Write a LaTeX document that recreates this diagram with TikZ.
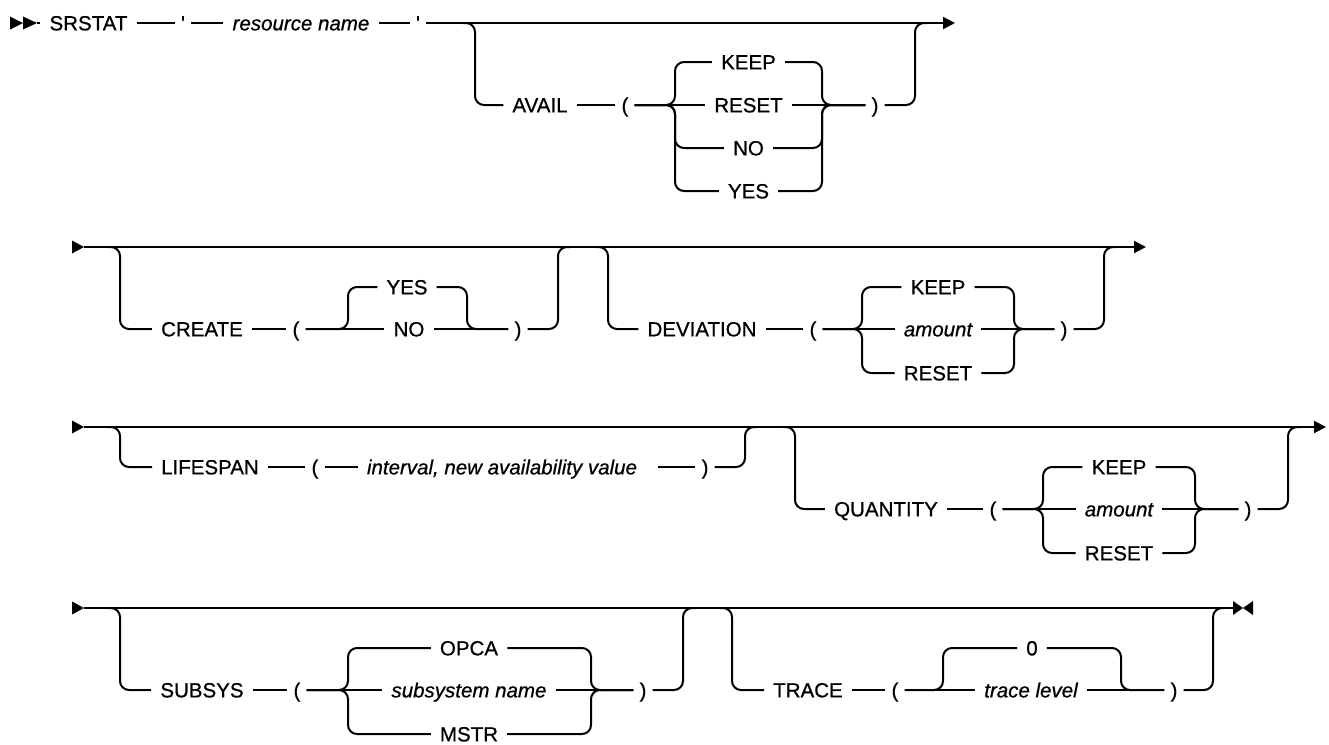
\documentclass[tikz,border=0pt]{standalone}
\usepackage{fontspec}
\newfontfamily\rrfam{Liberation Sans}[FakeBold=0.7]
\usetikzlibrary{arrows.meta}
\tikzset{
  rail/.style={line width=2pt, rounded corners=9pt},
  railend/.style={line width=2pt, -{Triangle[length=12pt,width=12pt]}},
  lbl/.style={inner xsep=9pt, inner ysep=0pt, text height=14.7pt, text depth=0pt,
    font=\rrfam\fontsize{20.5}{24}\selectfont},
  var/.style={lbl, font=\rrfam\fontsize{20.5}{24}\selectfont\itshape},
  par/.style={lbl, inner xsep=6pt},
  marker/.style={fill=black, draw=none},
}
\begin{document}
\begin{tikzpicture}[x=1pt, y=-1pt]
\useasboundingbox (0,0) rectangle (1329,744);

% ---------------- Row 1 ----------------
\coordinate (m1c) at (37,23);
\fill[marker] (10,16.5) -- (23,23) -- (10,29.5) -- cycle;
\fill[marker] (23,16.5) -- (37,23) -- (23,29.5) -- cycle;
\node[lbl] (srstat) at (88.5,23) {SRSTAT};
\node[par] (q1) at (183,23) {'};
\node[var] (rn) at (301,23) {resource name};
\node[par] (q2) at (418,23) {'};
\coordinate (end1) at (955,23);
\draw[rail] (m1c) -- (srstat.west);
\draw[rail] (srstat.east) -- (q1.west);
\draw[rail] (q1.east) -- (rn.west);
\draw[rail] (rn.east) -- (q2.west);
\draw[railend] (q2.east) -- (end1);

\coordinate (bA) at (475,23);
\coordinate (clA) at (675,105);
\coordinate (crA) at (822,105);
\coordinate (jA) at (915,23);
\node[lbl] (avail) at (540,105) {AVAIL};
\node[par] (lpA) at (625,105) {(};
\node[lbl] (keepA) at (748.5,62) {KEEP};
\node[lbl] (resetA) at (748.5,105) {RESET};
\node[lbl] (noA) at (748.5,148) {NO};
\node[lbl] (yesA) at (748.5,191) {YES};
\node[par] (rpA) at (875,105) {)};
\draw[rail] ([xshift=-12pt]bA) -- (bA) |- (avail.west);
\draw[rail] (avail.east) -- (lpA.west);
\draw[rail] (lpA.east) -- (resetA.west);
\draw[rail] (lpA.east) -- (clA) |- (keepA.west);
\draw[rail] (lpA.east) -- (clA) |- (noA.west);
\draw[rail] (lpA.east) -- (clA) |- (yesA.west);
\draw[rail] (resetA.east) -- (rpA.west);
\draw[rail] (keepA.east) -| (crA) -- (rpA.west);
\draw[rail] (noA.east) -| (crA) -- (rpA.west);
\draw[rail] (yesA.east) -| (crA) -- (rpA.west);
\draw[rail] (rpA.east) -| (jA) -- ([xshift=12pt]jA);

% ---------------- Row 2 ----------------
\coordinate (s2) at (84,247);
\fill[marker] (72,240.5) -- (84,247) -- (72,253.5) -- cycle;
\coordinate (end2) at (1146,247);
\draw[railend] (s2) -- (end2);

\coordinate (bC) at (120,247);
\coordinate (clC) at (348,329);
\coordinate (crC) at (467,329);
\coordinate (jC) at (558,247);
\node[lbl] (create) at (202,329) {CREATE};
\node[par] (lpC) at (296,329) {(};
\node[lbl] (yesC) at (407,287) {YES};
\node[lbl] (noC) at (409,329) {NO};
\node[par] (rpC) at (518,329) {)};
\draw[rail] ([xshift=-12pt]bC) -- (bC) |- (create.west);
\draw[rail] (create.east) -- (lpC.west);
\draw[rail] (lpC.east) -- (noC.west);
\draw[rail] (lpC.east) -- (clC) |- (yesC.west);
\draw[rail] (noC.east) -- (rpC.west);
\draw[rail] (yesC.east) -| (crC) -- (rpC.west);
\draw[rail] (rpC.east) -| (jC) -- ([xshift=12pt]jC);

\coordinate (bD) at (608,247);
\coordinate (clD) at (862,329);
\coordinate (crD) at (1014,329);
\coordinate (jD) at (1104,247);
\node[lbl] (dev) at (702,329) {DEVIATION};
\node[par] (lpD) at (813,329) {(};
\node[lbl] (keepD) at (938,287) {KEEP};
\node[var] (amtD) at (938,329) {amount};
\node[lbl] (resetD) at (938,373) {RESET};
\node[par] (rpD) at (1064,329) {)};
\draw[rail] ([xshift=-12pt]bD) -- (bD) |- (dev.west);
\draw[rail] (dev.east) -- (lpD.west);
\draw[rail] (lpD.east) -- (amtD.west);
\draw[rail] (lpD.east) -- (clD) |- (keepD.west);
\draw[rail] (lpD.east) -- (clD) |- (resetD.west);
\draw[rail] (amtD.east) -- (rpD.west);
\draw[rail] (keepD.east) -| (crD) -- (rpD.west);
\draw[rail] (resetD.east) -| (crD) -- (rpD.west);
\draw[rail] (rpD.east) -| (jD) -- ([xshift=12pt]jD);

% ---------------- Row 3 ----------------
\coordinate (s3) at (84,427);
\fill[marker] (72,420.5) -- (84,427) -- (72,433.5) -- cycle;
\coordinate (end3) at (1326,427);
\draw[railend] (s3) -- (end3);

\coordinate (bL) at (120,427);
\coordinate (jL) at (745,427);
\node[lbl] (life) at (210,467) {LIFESPAN};
\node[par] (lpL) at (315,467) {(};
\node[var] (ival) at (502,467) {interval, new availability value};
\node[par] (rpL) at (705,467) {)};
\draw[rail] ([xshift=-12pt]bL) -- (bL) |- (life.west);
\draw[rail] (life.east) -- (lpL.west);
\draw[rail] (lpL.east) -- (ival.west);
\draw[rail] ([xshift=12pt]ival.east) -- (rpL.west);
\draw[rail] (rpL.east) -| (jL) -- ([xshift=12pt]jL);

\coordinate (bQ) at (795,427);
\coordinate (clQ) at (1043,509);
\coordinate (crQ) at (1195,509);
\coordinate (jQ) at (1288,427);
\node[lbl] (qty) at (886,509) {QUANTITY};
\node[par] (lpQ) at (993,509) {(};
\node[lbl] (keepQ) at (1119,467) {KEEP};
\node[var] (amtQ) at (1119,509) {amount};
\node[lbl] (resetQ) at (1119,553) {RESET};
\node[par] (rpQ) at (1248,509) {)};
\draw[rail] ([xshift=-12pt]bQ) -- (bQ) |- (qty.west);
\draw[rail] (qty.east) -- (lpQ.west);
\draw[rail] (lpQ.east) -- (amtQ.west);
\draw[rail] (lpQ.east) -- (clQ) |- (keepQ.west);
\draw[rail] (lpQ.east) -- (clQ) |- (resetQ.west);
\draw[rail] (amtQ.east) -- (rpQ.west);
\draw[rail] (keepQ.east) -| (crQ) -- (rpQ.west);
\draw[rail] (resetQ.east) -| (crQ) -- (rpQ.west);
\draw[rail] (rpQ.east) -| (jQ) -- ([xshift=12pt]jQ);

% ---------------- Row 4 ----------------
\coordinate (s4) at (84,608);
\fill[marker] (72,601.5) -- (84,608) -- (72,614.5) -- cycle;
\coordinate (end4) at (1233,608);
\draw[rail] (s4) -- (end4);
\fill[marker] (1233,601) -- (1243,608) -- (1233,615) -- cycle;
\fill[marker] (1253,601) -- (1243,608) -- (1253,615) -- cycle;

\coordinate (bS) at (120,608);
\coordinate (clS) at (348,690);
\coordinate (crS) at (591,690);
\coordinate (jS) at (683,608);
\node[lbl] (subsys) at (202,690) {SUBSYS};
\node[par] (lpS) at (297,690) {(};
\node[lbl] (opca) at (469,648) {OPCA};
\node[var] (ssn) at (469,690) {subsystem name};
\node[lbl] (mstr) at (469,734) {MSTR};
\node[par] (rpS) at (643,690) {)};
\draw[rail] ([xshift=-12pt]bS) -- (bS) |- (subsys.west);
\draw[rail] (subsys.east) -- (lpS.west);
\draw[rail] (lpS.east) -- (ssn.west);
\draw[rail] (lpS.east) -- (clS) |- (opca.west);
\draw[rail] (lpS.east) -- (clS) |- (mstr.west);
\draw[rail] (ssn.east) -- (rpS.west);
\draw[rail] (opca.east) -| (crS) -- (rpS.west);
\draw[rail] (mstr.east) -| (crS) -- (rpS.west);
\draw[rail] (rpS.east) -| (jS) -- ([xshift=12pt]jS);

\coordinate (bT) at (732,608);
\coordinate (clT) at (943,690);
\coordinate (crT) at (1121,690);
\coordinate (jT) at (1213,608);
\node[lbl] (trace) at (808,690) {TRACE};
\node[par] (lpT) at (895,690) {(};
\node[lbl] (zero) at (1032,648) {0};
\node[var] (tlev) at (1031,690) {trace level};
\node[par] (rpT) at (1174,690) {)};
\draw[rail] ([xshift=-12pt]bT) -- (bT) |- (trace.west);
\draw[rail] (trace.east) -- (lpT.west);
\draw[rail] (lpT.east) -- (tlev.west);
\draw[rail] (lpT.east) -- (clT) |- (zero.west);
\draw[rail] (tlev.east) -- (rpT.west);
\draw[rail] (zero.east) -| (crT) -- (rpT.west);
\draw[rail] (rpT.east) -| (jT) -- ([xshift=12pt]jT);
\end{tikzpicture}
\end{document}
